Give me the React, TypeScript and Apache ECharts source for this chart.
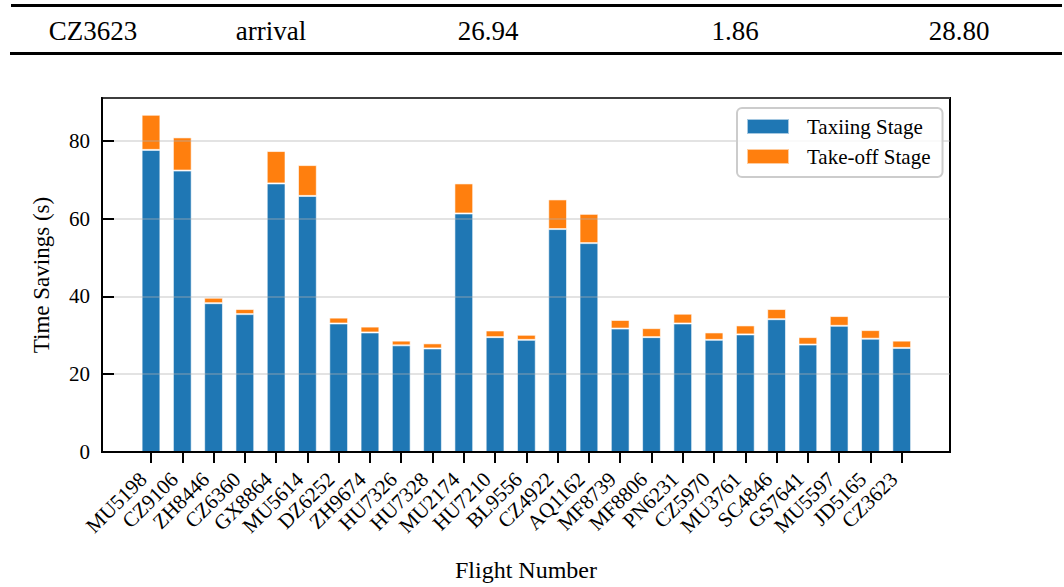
import React, { useEffect, useRef } from "react";
import * as echarts from "echarts";

const flights = [
  "MU5198", "CZ9106", "ZH8446", "CZ6360", "GX8864", "MU5614", "DZ6252", "ZH9674",
  "HU7326", "HU7328", "MU2174", "HU7210", "BL9556", "CZ4922", "AQ1162", "MF8739",
  "MF8806", "PN6231", "CZ5970", "MU3761", "SC4846", "GS7641", "MU5597", "JD5165", "CZ3623",
];
const taxiing = [
  77.7, 72.4, 38.4, 35.6, 69.1, 65.9, 33.2, 30.9, 27.6, 26.8, 61.4, 29.7, 29.0,
  57.4, 53.8, 31.9, 29.7, 33.2, 29.0, 30.4, 34.3, 27.8, 32.6, 29.3, 26.94,
];
const takeoff = [
  9.0, 8.5, 1.4, 1.3, 8.3, 7.9, 1.5, 1.5, 1.2, 1.3, 7.7, 1.7, 1.3,
  7.6, 7.5, 2.2, 2.3, 2.5, 1.9, 2.3, 2.6, 1.9, 2.5, 2.2, 1.86,
];
const yTicks = [0, 20, 40, 60, 80];
const tableRow = ["CZ3623", "arrival", "26.94", "1.86", "28.80"];
const tableColX = [93, 271, 488, 735, 959];

const FONT = "'Liberation Serif', 'Times New Roman', serif";

export default function App() {
  const ref = useRef<HTMLDivElement>(null);
  useEffect(() => {
    if (!ref.current) return;
    const chart = echarts.init(ref.current, undefined, { renderer: "svg" });
    const yMax = 91;
    const plotL = 102, plotR = 950, plotT = 98, plotB = 453;
    const band = 31.28;
    const firstCenter = 151;
    const g1L = firstCenter - band / 2;
    const g1W = band * flights.length;

    const tableGraphics: any[] = [
      { type: "line", shape: { x1: 11, y1: 5.5, x2: 1062, y2: 5.5 }, style: { stroke: "#000", lineWidth: 3 } },
      { type: "line", shape: { x1: 10, y1: 53.5, x2: 1062, y2: 53.5 }, style: { stroke: "#000", lineWidth: 3 } },
      ...tableRow.map((t, i) => ({
        type: "text",
        x: tableColX[i],
        y: 31,
        style: {
          text: t,
          fill: "#000",
          font: `27px ${FONT}`,
          textAlign: "center",
          textVerticalAlign: "middle",
        },
      })),
    ];

    chart.setOption({
      animation: false,
      backgroundColor: "#fff",
      textStyle: { fontFamily: FONT },
      graphic: tableGraphics,
      legend: {
        orient: "vertical",
        left: 737,
        top: 108,
        itemWidth: 42,
        itemHeight: 15,
        itemGap: 9,
        padding: [8, 12, 10, 9],
        borderColor: "#cccccc",
        borderWidth: 2,
        borderRadius: 5,
        backgroundColor: "rgba(255,255,255,0.8)",
        textStyle: { fontSize: 21, color: "#000", fontFamily: FONT, lineHeight: 15, padding: [0, 0, 0, 13] },
        data: [
          { name: "Taxiing Stage", icon: "rect" },
          { name: "Take-off Stage", icon: "rect" },
        ],
      },
      grid: [
        {
          left: plotL,
          top: plotT,
          width: plotR - plotL,
          height: plotB - plotT,
          show: true,
          borderColor: "#000",
          borderWidth: 2,
          backgroundColor: "transparent",
        },
        {
          left: g1L,
          top: plotT,
          width: g1W,
          height: plotB - plotT,
        },
      ],
      xAxis: [
        {
          type: "value",
          gridIndex: 0,
          min: 0,
          max: 1,
          z: 4,
          axisLine: { show: true, lineStyle: { color: "#000", width: 2 } },
          axisTick: { show: false },
          axisLabel: { show: false },
          splitLine: { show: false },
          name: "Flight Number",
          nameLocation: "middle",
          nameGap: 106,
          nameTextStyle: { fontSize: 24, color: "#000", fontFamily: FONT },
        },
        {
          type: "category",
          gridIndex: 1,
          data: flights,
          axisLine: { show: false },
          axisTick: { show: true, alignWithLabel: true, length: 10, lineStyle: { color: "#000", width: 2 } },
          axisLabel: {
            rotate: 45,
            interval: 0,
            fontSize: 21,
            color: "#000",
            fontFamily: FONT,
            margin: 15,
            padding: [0, 11, 0, 0],
          },
          splitLine: { show: false },
        },
      ],
      yAxis: [
        {
          type: "value",
          gridIndex: 0,
          min: 0,
          max: yMax,
          interval: 20,
          z: 3,
          axisLine: { show: true, lineStyle: { color: "#000", width: 2 } },
          axisTick: { show: true, inside: true, length: 12, lineStyle: { color: "#000", width: 2 } },
          axisLabel: {
            fontSize: 21,
            color: "#000",
            fontFamily: FONT,
            margin: 12,
            formatter: (v: number) => (yTicks.includes(v) ? String(v) : ""),
            showMaxLabel: false,
          },
          splitLine: { show: true, lineStyle: { color: "rgba(176,176,176,0.35)", width: 2 } },
          name: "Time Savings (s)",
          nameLocation: "middle",
          nameGap: 49,
          nameTextStyle: { fontSize: 23, color: "#000", fontFamily: FONT },
        },
        {
          type: "value",
          gridIndex: 1,
          min: 0,
          max: yMax,
          show: false,
          splitLine: { show: false },
        },
      ],
      series: [
        {
          name: "Taxiing Stage",
          type: "bar",
          stack: "total",
          xAxisIndex: 1,
          yAxisIndex: 1,
          barWidth: "60%",
          data: taxiing,
          itemStyle: { color: "#1f77b4", borderColor: "rgba(255,255,255,0.6)", borderWidth: 1 },
        },
        {
          name: "Take-off Stage",
          type: "bar",
          stack: "total",
          xAxisIndex: 1,
          yAxisIndex: 1,
          barWidth: "60%",
          data: takeoff,
          itemStyle: { color: "#ff7f0e", borderColor: "rgba(255,255,255,0.6)", borderWidth: 1 },
        },
      ],
    });
    return () => chart.dispose();
  }, []);
  return (
    <div
      ref={ref}
      style={{ position: "fixed", left: 0, top: 0, width: 1064, height: 587, background: "#fff" }}
    />
  );
}
